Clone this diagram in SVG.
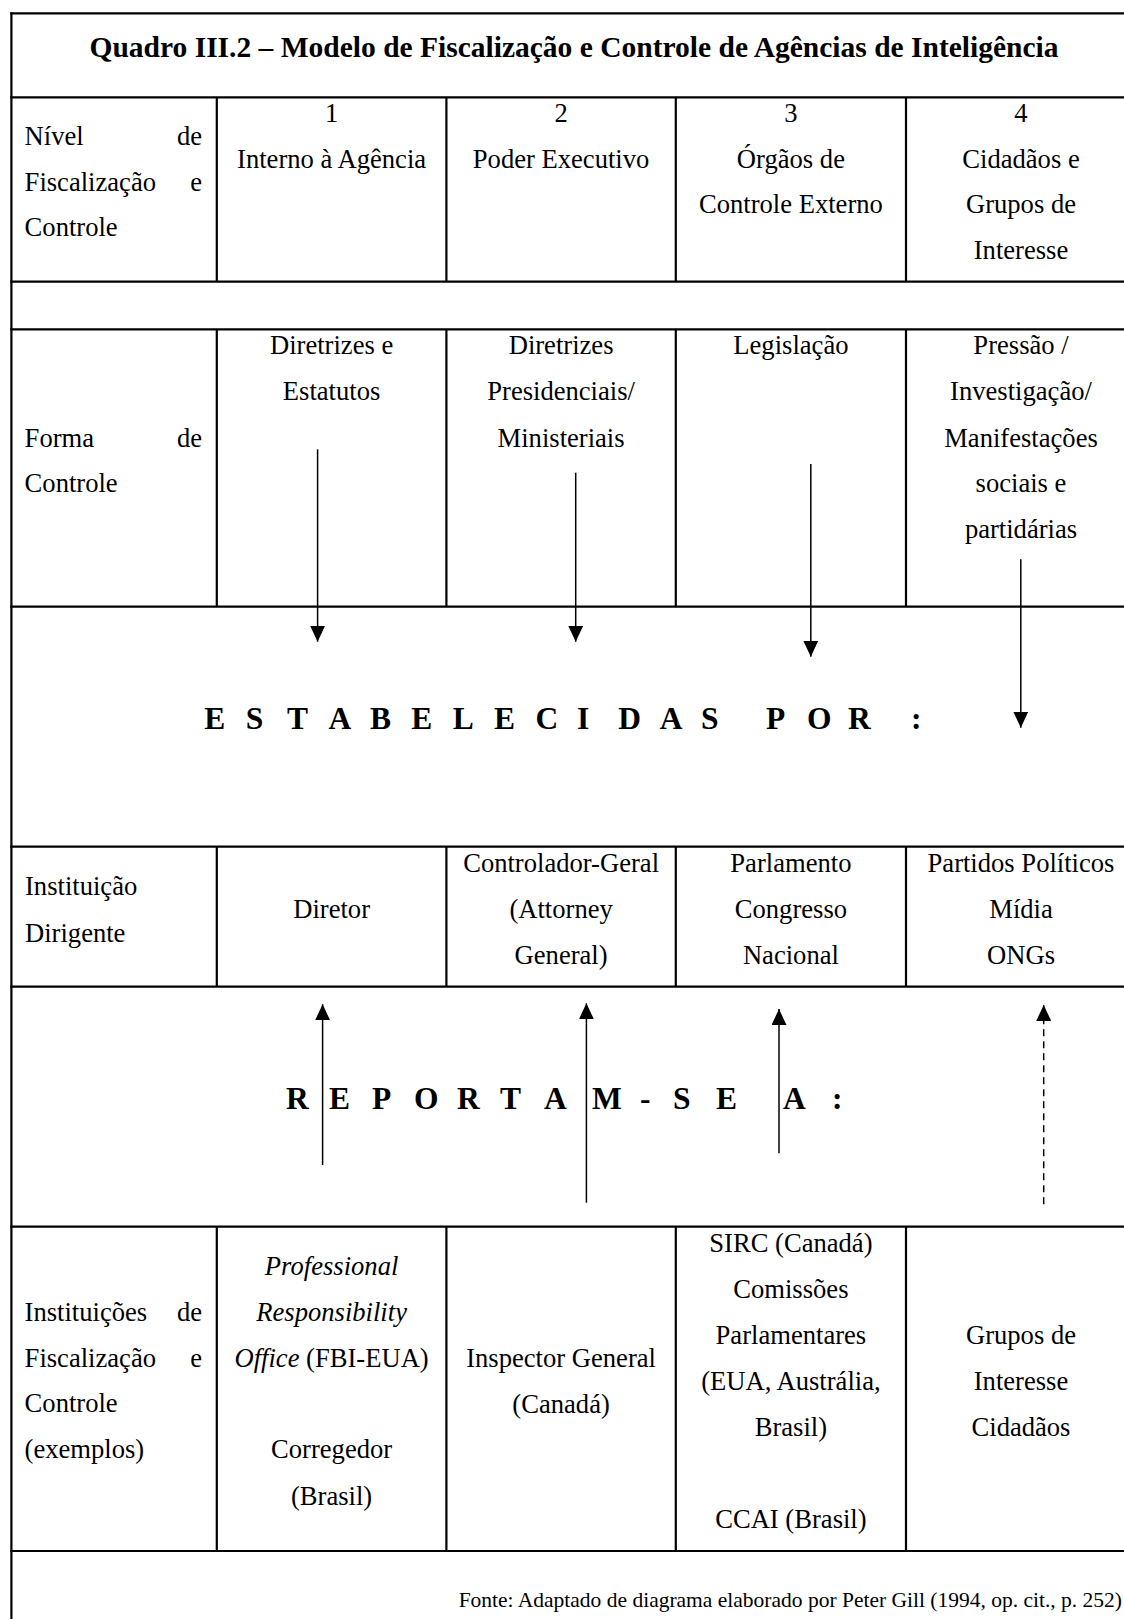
<svg xmlns="http://www.w3.org/2000/svg" width="1124" height="1619" viewBox="0 0 1124 1619">
<style>
  text { font-family: "Liberation Serif", "Times New Roman", serif; font-size: 26.6px; fill: #000; }
  .c { text-anchor: middle; }
  .r { text-anchor: end; }
  .b { font-weight: bold; font-size: 29.5px; }
  .big { font-weight: bold; font-size: 31.5px; }
  .i { font-style: italic; }
  .src { font-size: 21.5px; text-anchor: end; }
  .grid line { stroke: #000; stroke-width: 2.2; }
  .arr { stroke: #000; stroke-width: 1.5; fill: none; marker-end: url(#ah); }
  .dash { stroke-dasharray: 7 5; }
</style>
<defs>
  <marker id="ah" markerWidth="16" markerHeight="15" refX="16" refY="7.5" orient="auto" markerUnits="userSpaceOnUse">
    <path d="M0,0 L16,7.5 L0,15 z" fill="#000"/>
  </marker>
</defs>
<rect x="0" y="0" width="1124" height="1619" fill="#fff"/>

<g id="grid" class="grid">
  <line x1="11.4" y1="12.2" x2="11.4" y2="1619"/>
  <line x1="10.3" y1="13.3" x2="1124" y2="13.3"/>
  <line x1="10.3" y1="97.3" x2="1124" y2="97.3"/>
  <line x1="10.3" y1="281.7" x2="1124" y2="281.7"/>
  <line x1="10.3" y1="329.3" x2="1124" y2="329.3"/>
  <line x1="10.3" y1="606.7" x2="1124" y2="606.7"/>
  <line x1="10.3" y1="846.7" x2="1124" y2="846.7"/>
  <line x1="10.3" y1="986.7" x2="1124" y2="986.7"/>
  <line x1="10.3" y1="1226.7" x2="1124" y2="1226.7"/>
  <line x1="10.3" y1="1551" x2="1124" y2="1551"/>
  <line x1="216.8" y1="97.3" x2="216.8" y2="281.7"/>
  <line x1="446.4" y1="97.3" x2="446.4" y2="281.7"/>
  <line x1="675.8" y1="97.3" x2="675.8" y2="281.7"/>
  <line x1="906" y1="97.3" x2="906" y2="281.7"/>
  <line x1="216.8" y1="329.3" x2="216.8" y2="606.7"/>
  <line x1="446.4" y1="329.3" x2="446.4" y2="606.7"/>
  <line x1="675.8" y1="329.3" x2="675.8" y2="606.7"/>
  <line x1="906" y1="329.3" x2="906" y2="606.7"/>
  <line x1="216.8" y1="846.7" x2="216.8" y2="986.7"/>
  <line x1="446.4" y1="846.7" x2="446.4" y2="986.7"/>
  <line x1="675.8" y1="846.7" x2="675.8" y2="986.7"/>
  <line x1="906" y1="846.7" x2="906" y2="986.7"/>
  <line x1="216.8" y1="1226.7" x2="216.8" y2="1551"/>
  <line x1="446.4" y1="1226.7" x2="446.4" y2="1551"/>
  <line x1="675.8" y1="1226.7" x2="675.8" y2="1551"/>
  <line x1="906" y1="1226.7" x2="906" y2="1551"/>
</g>

<g id="title">
  <text class="c b" x="574" y="57">Quadro III.2 – Modelo de Fiscalização e Controle de Agências de Inteligência</text>
</g>

<g id="nivel-label">
  <text x="24.6" y="145">Nível</text><text class="r" x="202" y="145">de</text>
  <text x="24.6" y="190.7">Fiscalização</text><text class="r" x="202" y="190.7">e</text>
  <text x="24.6" y="236.3">Controle</text>
</g>
<g id="nivel-1">
  <text class="c" x="331.6" y="122">1</text>
  <text class="c" x="331.6" y="167.7">Interno à Agência</text>
</g>
<g id="nivel-2">
  <text class="c" x="561.1" y="122">2</text>
  <text class="c" x="561.1" y="167.7">Poder Executivo</text>
</g>
<g id="nivel-3">
  <text class="c" x="790.9" y="122">3</text>
  <text class="c" x="790.9" y="167.7">Órgãos de</text>
  <text class="c" x="790.9" y="213.4">Controle Externo</text>
</g>
<g id="nivel-4">
  <text class="c" x="1021" y="122">4</text>
  <text class="c" x="1021" y="167.7">Cidadãos e</text>
  <text class="c" x="1021" y="213.4">Grupos de</text>
  <text class="c" x="1021" y="259.1">Interesse</text>
</g>

<g id="forma-label">
  <text x="24.6" y="446.5">Forma</text><text class="r" x="202" y="446.5">de</text>
  <text x="24.6" y="492.3">Controle</text>
</g>
<g id="forma-1">
  <text class="c" x="331.6" y="354.3">Diretrizes e</text>
  <text class="c" x="331.6" y="400.4">Estatutos</text>
</g>
<g id="forma-2">
  <text class="c" x="561.1" y="354.3">Diretrizes</text>
  <text class="c" x="561.1" y="400.4">Presidenciais/</text>
  <text class="c" x="561.1" y="446.5">Ministeriais</text>
</g>
<g id="forma-3">
  <text class="c" x="790.9" y="354.3">Legislação</text>
</g>
<g id="forma-4">
  <text class="c" x="1021" y="354.3">Pressão /</text>
  <text class="c" x="1021" y="400.4">Investigação/</text>
  <text class="c" x="1021" y="446.5">Manifestações</text>
  <text class="c" x="1021" y="492.3">sociais e</text>
  <text class="c" x="1021" y="538.3">partidárias</text>
</g>

<g id="estabelecidas">
  <text class="big" x="204.3 245.7 287.1 328.5 369.9 411.3 452.7 494.1 535.5 576.9 618.3 659.7 701.1 766 807 848 911" y="729">ESTABELECIDASPOR:</text>
</g>

<g id="dirigente-label">
  <text x="25" y="895">Instituição</text>
  <text x="25" y="941.7">Dirigente</text>
</g>
<g id="dirigente-1">
  <text class="c" x="331.6" y="918.3">Diretor</text>
</g>
<g id="dirigente-2">
  <text class="c" x="561.1" y="871.7">Controlador-Geral</text>
  <text class="c" x="561.1" y="918.3">(Attorney</text>
  <text class="c" x="561.1" y="964">General)</text>
</g>
<g id="dirigente-3">
  <text class="c" x="790.9" y="871.7">Parlamento</text>
  <text class="c" x="790.9" y="918.3">Congresso</text>
  <text class="c" x="790.9" y="964">Nacional</text>
</g>
<g id="dirigente-4">
  <text class="c" x="1021" y="871.7">Partidos Políticos</text>
  <text class="c" x="1021" y="918.3">Mídia</text>
  <text class="c" x="1021" y="964">ONGs</text>
</g>

<g id="reportam">
  <text class="big" x="286 329 372 414 457 500 544 592 640 673 716 783 832" y="1108.5">REPORTAM-SEA:</text>
</g>

<g id="inst-label">
  <text x="24.6" y="1321">Instituições</text><text class="r" x="202" y="1321">de</text>
  <text x="24.6" y="1366.7">Fiscalização</text><text class="r" x="202" y="1366.7">e</text>
  <text x="24.6" y="1412.3">Controle</text>
  <text x="24.6" y="1457.9">(exemplos)</text>
</g>
<g id="inst-1">
  <text class="c i" x="331.6" y="1275.2">Professional</text>
  <text class="c i" x="331.6" y="1321">Responsibility</text>
  <text class="c" x="331.6" y="1366.7"><tspan class="i">Office</tspan> (FBI-EUA)</text>
  <text class="c" x="331.6" y="1458.3">Corregedor</text>
  <text class="c" x="331.6" y="1504.8">(Brasil)</text>
</g>
<g id="inst-2">
  <text class="c" x="561.1" y="1366.7">Inspector General</text>
  <text class="c" x="561.1" y="1412.5">(Canadá)</text>
</g>
<g id="inst-3">
  <text class="c" x="790.9" y="1251.7">SIRC (Canadá)</text>
  <text class="c" x="790.9" y="1297.8">Comissões</text>
  <text class="c" x="790.9" y="1343.8">Parlamentares</text>
  <text class="c" x="790.9" y="1389.9">(EUA, Austrália,</text>
  <text class="c" x="790.9" y="1435.9">Brasil)</text>
  <text class="c" x="790.9" y="1528.2">CCAI (Brasil)</text>
</g>
<g id="inst-4">
  <text class="c" x="1021" y="1343.8">Grupos de</text>
  <text class="c" x="1021" y="1389.9">Interesse</text>
  <text class="c" x="1021" y="1435.9">Cidadãos</text>
</g>

<g id="fonte">
  <text class="src" x="1122" y="1606.7">Fonte: Adaptado de diagrama elaborado por Peter Gill (1994, op. cit., p. 252)</text>
</g>

<g id="connectors">
  <line class="arr" x1="317.6" y1="449.3" x2="317.6" y2="641.7"/>
  <line class="arr" x1="575.7" y1="472.7" x2="575.7" y2="641.7"/>
  <line class="arr" x1="810.8" y1="464" x2="810.8" y2="656.7"/>
  <line class="arr" x1="1020.8" y1="559.3" x2="1020.8" y2="727.7"/>
  <line class="arr" x1="322.6" y1="1165" x2="322.6" y2="1004.3"/>
  <line class="arr" x1="586.4" y1="1202.7" x2="586.4" y2="1003.3"/>
  <line class="arr" x1="779" y1="1153.3" x2="779" y2="1009"/>
  <line class="arr dash" x1="1043.7" y1="1204.3" x2="1043.7" y2="1005"/>
</g>
</svg>
